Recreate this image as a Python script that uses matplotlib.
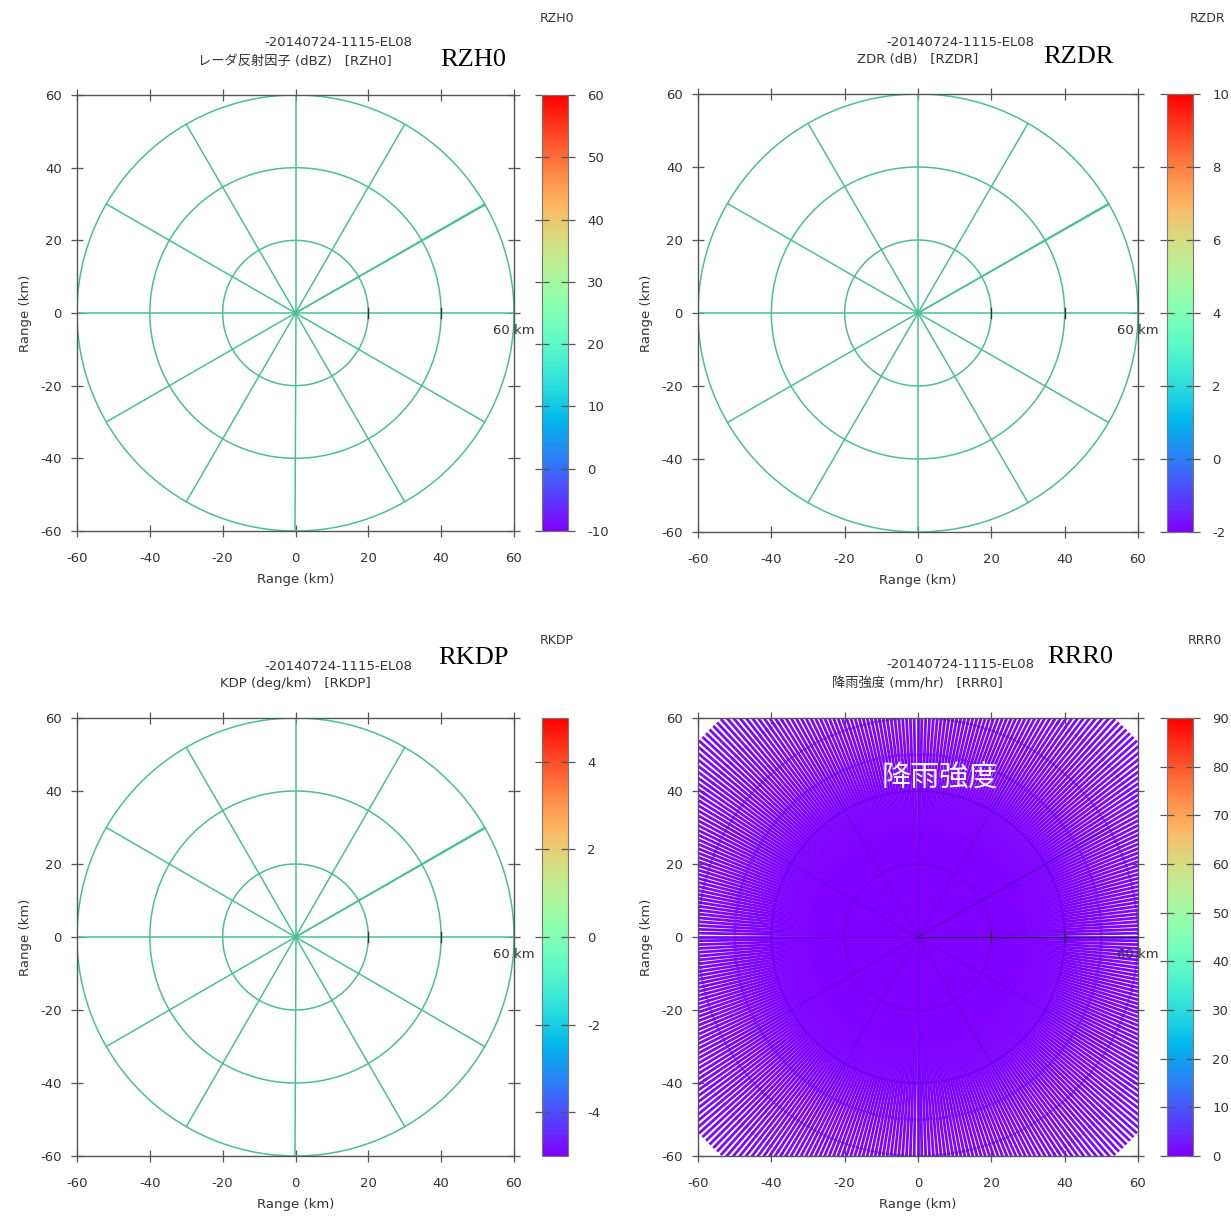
import numpy as np
import matplotlib
matplotlib.use("Agg")
import matplotlib.pyplot as plt
from matplotlib.colors import Normalize
from matplotlib.cm import ScalarMappable
from matplotlib.collections import LineCollection

plt.rcParams['font.family'] = ['DejaVu Sans', 'Noto Sans CJK JP']
plt.rcParams['axes.unicode_minus'] = False

# =========================
# 1) DATA
# =========================
scan_id = "-20140724-1115-EL08"
panel_codes = ["RZH0", "RZDR", "RKDP", "RRR0"]
panel_titles = ["レーダ反射因子 (dBZ)   [RZH0]", "ZDR (dB)   [RZDR]",
                "KDP (deg/km)   [RKDP]", "降雨強度 (mm/hr)   [RRR0]"]
cbar_min = [-10, -2, -5, 0]
cbar_max = [60, 10, 5, 90]
cbar_ticks = [list(range(-10, 61, 10)), list(range(-2, 11, 2)),
              [-4, -2, 0, 2, 4], list(range(0, 91, 10))]

axis_ticks = [-60, -40, -20, 0, 20, 40, 60]
ring_radii_km = [20, 40, 60]
spoke_angles_deg = [0, 30, 60, 90, 120, 150, 180, 210, 240, 270, 300, 330, 29.75]
range_marks_km = [20, 40]

# rain rate (RRR0), nearly no rain: per range gate, same on all rays
rain_range_edges_km = [0, 10, 20, 30, 40, 50, 60, 70, 80]
rain_rate_mmhr = [0.2, 0.2, 0.3, 0.4, 0.6, 0.8, 1.0, 1.2]
n_rays = 360

# =========================
# 2) LAYOUT (pixel boxes)
# =========================
W, H = 1231, 1216
ax_boxes = [(77, 514, 95, 531), (698, 1138, 94, 532),
            (77, 514, 718, 1156), (698, 1138, 718, 1156)]
cb_boxes = [(542, 568), (1167, 1193), (542, 568), (1167, 1193)]
title_pos = [(338, 43, 295, 61, 473, 60, 557, 18),
             (960, 42, 918, 59, 1078, 57, 1208, 18),
             (338, 666, 295, 684, 473, 658, 557, 641),
             (960, 665, 917, 684, 1080, 657, 1205, 641)]

grid_col = "#4dbd98"
spine_col = "#555555"
text_col = "#333333"

fig = plt.figure(figsize=(W / 100, H / 100), dpi=100)


def fx(px):
    return px / W


def fy(py):
    return 1 - py / H


for i in range(4):
    l, r, t, b = ax_boxes[i]
    ax = fig.add_axes([fx(l), fy(b), fx(r - l), (b - t) / H])
    ax.set_xlim(-60, 60)
    ax.set_ylim(-60, 60)
    ax.set_xticks(axis_ticks)
    ax.set_yticks(axis_ticks)
    ax.tick_params(direction="inout", length=8, width=0.9, color=spine_col,
                   top=True, right=True, labelsize=9.5, labelcolor=text_col)
    ax.tick_params(axis="x", pad=11)
    ax.tick_params(axis="y", pad=7)
    for s in ax.spines.values():
        s.set_color(spine_col)
        s.set_linewidth(1.0)
    ax.set_xlabel("Range (km)", fontsize=9.5, color=text_col, labelpad=6)
    ax.set_ylabel("Range (km)", fontsize=9.5, color=text_col, labelpad=6)

    cmap = plt.get_cmap("rainbow")
    norm = Normalize(cbar_min[i], cbar_max[i])

    if panel_codes[i] == "RRR0":
        # every ray drawn as a beam of fixed width, gaps open up far out
        az = np.deg2rad(np.arange(n_rays) * 360.0 / n_rays)
        rr = np.array(rain_range_edges_km, dtype=float)
        segs, vals = [], []
        for a in az:
            for k in range(len(rain_rate_mmhr)):
                segs.append([(rr[k] * np.sin(a), rr[k] * np.cos(a)),
                             (rr[k + 1] * np.sin(a), rr[k + 1] * np.cos(a))])
                vals.append(rain_rate_mmhr[k])
        lc = LineCollection(segs, cmap=cmap, norm=norm, linewidths=2.0,
                            capstyle="projecting", rasterized=True)
        lc.set_array(np.array(vals))
        ax.add_collection(lc)
        gc, ga, glw = "#4a10a8", 0.45, 0.8
    else:
        gc, ga, glw = grid_col, 1.0, 1.1

    phi = np.linspace(0, 2 * np.pi, 400)
    for rad in ring_radii_km:
        ax.plot(rad * np.cos(phi), rad * np.sin(phi), color=gc, alpha=ga, lw=glw)
    for ang in spoke_angles_deg:
        a = np.deg2rad(ang)
        c, al = gc, ga
        if panel_codes[i] == "RRR0" and ang == 0:
            c, al = "#2a0c55", 1.0
        ax.plot([0, 60 * np.cos(a)], [0, 60 * np.sin(a)], color=c, alpha=al, lw=glw)
    for rm in range_marks_km:
        ax.plot([rm, rm], [-1.5, 1.5], color="#333333", lw=1.0)
    ax.text(60, -4.7, "60 km", ha="center", va="center", fontsize=9.5,
            color=text_col, clip_on=False, zorder=5)
    if panel_codes[i] == "RRR0":
        ax.text(6, 43.5, "降雨強度", ha="center", va="center", fontsize=21,
                color="white", family=["Noto Sans CJK JP"])

    # colorbar
    cl, cr = cb_boxes[i]
    cax = fig.add_axes([fx(cl), fy(b), fx(cr - cl), (b - t) / H])
    sm = ScalarMappable(norm=norm, cmap=cmap)
    cb = fig.colorbar(sm, cax=cax, ticks=cbar_ticks[i])
    cb.outline.set_edgecolor("#777777")
    cb.outline.set_linewidth(0.8)
    cax.tick_params(direction="inout", length=10, width=0.9, color=spine_col,
                    left=True, right=True, labelsize=9.5, labelcolor=text_col, pad=9)

    # titles
    x1, y1, x2, y2, x3, y3, x4, y4 = title_pos[i]
    fig.text(fx(x1), fy(y1), scan_id, ha="center", va="center", fontsize=9.5, color=text_col)
    fig.text(fx(x2), fy(y2), panel_titles[i], ha="center", va="center", fontsize=9.5,
             color=text_col)
    fig.text(fx(x3), fy(y3), panel_codes[i], ha="center", va="center", fontsize=19,
             color="black", family=["Liberation Serif"])
    fig.text(fx(x4), fy(y4), panel_codes[i], ha="center", va="center", fontsize=9,
             color=text_col)

plt.savefig("out.png", dpi=100)
